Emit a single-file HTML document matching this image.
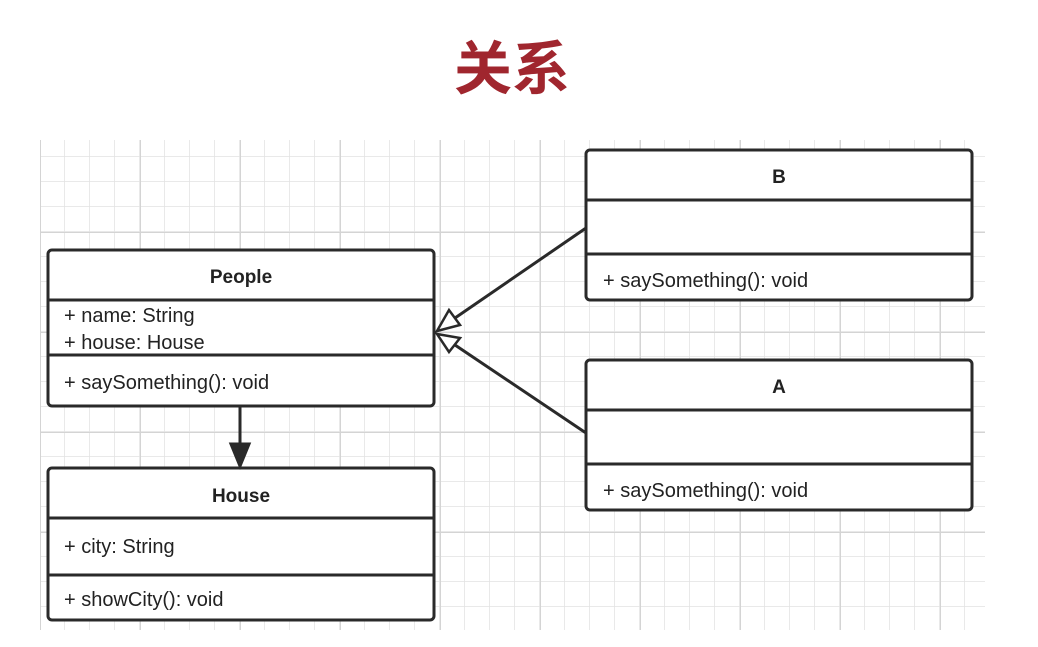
<!DOCTYPE html>
<html><head><meta charset="utf-8"><style>
body{margin:0;width:1038px;height:647px;background:#fff;overflow:hidden;position:relative;font-family:"Liberation Sans","Noto Sans CJK SC",sans-serif}
.t{position:absolute;left:0;width:1024px;top:22px;text-align:center;font-size:58px;font-weight:bold;color:#a0262e;font-family:"Noto Sans CJK SC",sans-serif}
</style></head><body>
<div class="t">关系</div>
<svg width="1038" height="647" style="position:absolute;left:0;top:0">
<defs>
<pattern id="g" x="15" y="7" width="25" height="25" patternUnits="userSpaceOnUse"><path d="M25 0V25M0 25H25" stroke="#e2e2e2" stroke-width="1.5" fill="none"/></pattern>
<pattern id="G" x="40" y="32" width="100" height="100" patternUnits="userSpaceOnUse"><path d="M0 0V100M0 0H100" stroke="#d4d4d4" stroke-width="2" fill="none"/></pattern>
</defs>
<rect x="40" y="140" width="945" height="490" fill="url(#g)"/>
<rect x="40" y="140" width="945" height="490" fill="url(#G)"/>
<g stroke="#2a2a2a" stroke-width="3" fill="#fff">
<rect x="48" y="250" width="386" height="156" rx="4"/><path d="M48 300H434M48 355H434"/>
<rect x="48" y="468" width="386" height="152" rx="4"/><path d="M48 518H434M48 575H434"/>
<rect x="586" y="150" width="386" height="150" rx="4"/><path d="M586 200H972M586 254H972"/>
<rect x="586" y="360" width="386" height="150" rx="4"/><path d="M586 410H972M586 464H972"/>
<path d="M586 228L455 318M586 433L455 345M240 406V446" fill="none"/>
<path d="M437 331L449 310L460 325Z M437 334L460 338L449 352Z" stroke-width="2.5"/>
<path d="M231 444L249 444L240 466Z" fill="#2a2a2a"/>
</g>
<g fill="#222" font-size="20">
<text x="241" y="283" text-anchor="middle" font-weight="bold" font-size="19">People</text>
<text x="64" y="322">+ name: String</text>
<text x="64" y="349">+ house: House</text>
<text x="64" y="389">+ saySomething(): void</text>
<text x="241" y="502" text-anchor="middle" font-weight="bold" font-size="19">House</text>
<text x="64" y="553">+ city: String</text>
<text x="64" y="606">+ showCity(): void</text>
<text x="779" y="183" text-anchor="middle" font-weight="bold" font-size="19">B</text>
<text x="603" y="287">+ saySomething(): void</text>
<text x="779" y="393" text-anchor="middle" font-weight="bold" font-size="19">A</text>
<text x="603" y="497">+ saySomething(): void</text>
</g>
</svg>
</body></html>
